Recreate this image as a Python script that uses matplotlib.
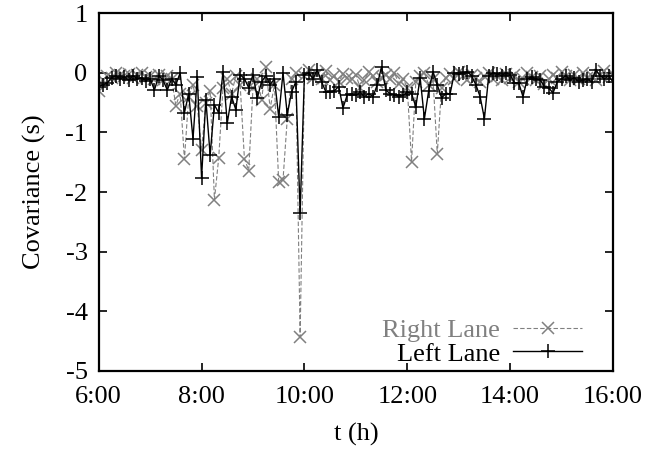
import numpy as np
import matplotlib
matplotlib.use("Agg")
import matplotlib.pyplot as plt

# sample times, every 5 minutes from 6:00 to 16:00 (hours)
t_hours = 6 + np.arange(121) * 5 / 60.0

right_lane = [
    -0.30, -0.12, -0.05, -0.08, 0.00, -0.03, -0.06, -0.02, -0.08, -0.04,
    0.00, -0.07, -0.05, -0.10, -0.03, -0.12, -0.06, -0.10, -0.55, -0.35,
    -1.45, -0.40, -0.20, -0.55, -1.30, -0.50, -0.30, -2.13, -1.43, -0.25,
    -0.10, -0.35, -0.05, -0.20, -1.44, -1.64, -0.25, -0.10, -0.45, 0.10,
    -0.60, -0.20, -1.83, -1.80, -0.77, -0.10, 0.00, -4.43, -0.05, 0.05,
    -0.08, -0.02, -0.10, 0.03, -0.12, -0.05, -0.15, -0.02, -0.08, -0.10,
    -0.03, -0.25, -0.12, 0.02, -0.05, -0.15, -0.08, -0.03, -0.10, 0.00,
    -0.18, -0.10, -0.25, -1.49, -0.15, -0.05, 0.00, -0.20, -0.10, -1.36,
    -0.25, -0.08, -0.02, -0.10, 0.02, -0.05, -0.12, -0.03, -0.08, -0.15,
    -0.05, 0.00, -0.10, -0.06, -0.12, -0.02, -0.08, -0.04, -0.15, -0.10,
    0.00, -0.07, -0.12, -0.05, -0.18, -0.10, -0.03, -0.08, 0.02, -0.06,
    -0.12, -0.04, -0.10, 0.00, -0.08, -0.05, -0.12, -0.03, 0.03, -0.07,
    -0.02,
]

left_lane = [
    -0.23, -0.20, -0.17, -0.08, -0.05, -0.10, -0.07, -0.12, -0.05, -0.10,
    -0.08, -0.13, -0.10, -0.29, -0.05, -0.12, -0.29, -0.10, -0.20, 0.00,
    -0.67, -0.35, -1.11, -0.07, -1.76, -0.45, -1.38, -0.54, -0.67, 0.02,
    -0.84, -0.40, -0.62, -0.03, -0.10, -0.25, -0.03, -0.42, -0.15, -0.05,
    -0.20, -0.10, -0.74, 0.00, -0.70, -0.32, -0.15, -2.35, -0.03, 0.00,
    -0.10, 0.05, -0.15, -0.32, -0.32, -0.30, -0.23, -0.59, -0.37, -0.35,
    -0.38, -0.33, -0.40, -0.35, -0.40, -0.20, 0.10, -0.29, -0.35, -0.37,
    -0.40, -0.38, -0.32, -0.35, -0.57, -0.08, -0.77, -0.30, 0.02, -0.20,
    -0.42, -0.35, -0.35, 0.00, -0.02, 0.00, 0.02, -0.05, -0.20, -0.40,
    -0.77, -0.05, 0.00, -0.02, -0.05, 0.00, -0.03, -0.17, -0.17, -0.40,
    -0.10, -0.07, -0.10, -0.12, -0.23, -0.25, -0.34, -0.15, -0.10, -0.05,
    -0.12, -0.08, -0.15, -0.12, -0.10, -0.15, 0.05, -0.05, -0.10, -0.05,
    -0.15,
]

x_ticks = [6, 8, 10, 12, 14, 16]
x_ticklabels = ["6:00", "8:00", "10:00", "12:00", "14:00", "16:00"]
y_ticks = [1, 0, -1, -2, -3, -4, -5]

plt.rcParams["font.family"] = ["Liberation Serif", "DejaVu Serif"]

fig = plt.figure(figsize=(6.67, 4.55), dpi=100)
ax = fig.add_axes([0.148, 0.185, 0.771, 0.786])

ax.plot(t_hours, right_lane, color="#808080", linestyle=(0, (4, 2)), linewidth=0.8,
        marker="x", markersize=8, markeredgewidth=1.1, label="Right Lane")
ax.plot(t_hours, left_lane, color="black", linestyle="-", linewidth=1.0,
        marker="+", markersize=10, markeredgewidth=1.1, label="Left Lane")

ax.set_xlim(6, 16)
ax.set_ylim(-5, 1)
ax.set_xticks(x_ticks)
ax.set_xticklabels(x_ticklabels)
ax.set_yticks(y_ticks)
ax.set_yticklabels([str(v) for v in y_ticks])
ax.tick_params(direction="in", length=6, width=1.2, top=True, right=True,
               labelsize=19)
ax.tick_params(axis="x", pad=11)
ax.tick_params(axis="y", pad=8)
for s in ax.spines.values():
    s.set_linewidth(1.6)

ax.set_xlabel("t (h)", fontsize=19, labelpad=11)
ax.set_ylabel("Covariance (s)", fontsize=19, labelpad=14)

leg = ax.legend(loc="lower right", frameon=False, fontsize=19, markerfirst=False,
                handlelength=2.6, handletextpad=0.5, labelspacing=0.0,
                borderaxespad=0.0, bbox_to_anchor=(0.96, -0.015))
for txt, c in zip(leg.get_texts(), ["#808080", "black"]):
    txt.set_color(c)

fig.savefig("out.png", dpi=100)
